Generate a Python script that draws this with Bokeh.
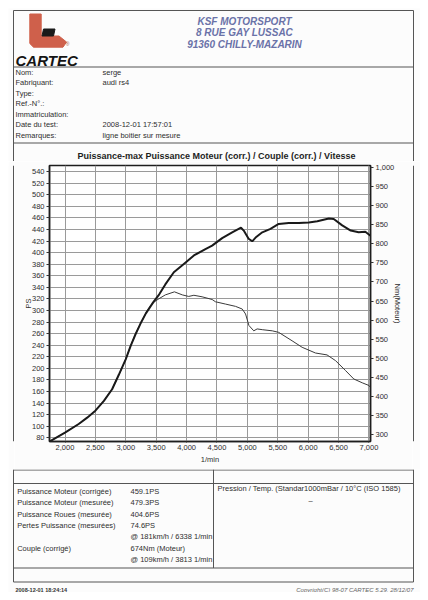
from bokeh.plotting import figure
from bokeh.models import Range1d, LinearAxis, FixedTicker, NumeralTickFormatter, Spacer
from bokeh.layouts import column, row
from bokeh.embed import file_html
from bokeh.resources import INLINE
from bokeh.core.properties import value

# ---------------- data ----------------
power_rpm = [1750, 2000, 2225, 2365, 2500, 2640, 2775, 2885, 3000, 3080, 3160, 3240, 3330,
             3450, 3550, 3650, 3790, 3950, 4120, 4310, 4420, 4585, 4750, 4895, 4940, 5020,
             5080, 5135, 5245, 5380, 5515, 5680, 5845, 6010, 6150, 6340, 6420, 6560, 6700,
             6830, 6940, 7025]
power_ps = [74, 89, 104, 115, 127, 144, 164, 189, 216, 239, 259, 277, 295,
            314, 328, 345, 366, 380, 395, 406, 412, 425, 435, 443, 438, 424,
            419.5, 426, 435, 441, 449.5, 451, 451, 452, 454, 459, 458, 447, 438,
            435, 436, 429]

torque_rpm = [1750, 2000, 2225, 2365, 2500, 2640, 2775, 2885, 3000, 3080, 3160, 3240, 3330,
              3400, 3470, 3545, 3650, 3800, 3930, 4035, 4120, 4255, 4420, 4475, 4640, 4805,
              4915, 4970, 5025, 5105, 5160, 5245, 5410, 5515, 5735, 5900, 6120, 6310, 6450,
              6615, 6750, 6890, 7000, 7025]
torque_nm = [283, 306, 328, 345, 363, 389, 420, 456, 498, 533, 564, 590, 618,
             636, 648, 656, 666, 674, 666, 662, 665, 661, 654, 648, 642, 636,
             629, 616, 586, 572, 577, 575, 572, 568, 546, 529, 514, 509, 494,
             468, 446, 436, 429, 424]

ps_ticks = list(range(80, 541, 20))
nm_ticks = list(range(300, 1001, 50))
rpm_ticks = list(range(2000, 7001, 500))

company_lines = ["KSF MOTORSPORT", "8 RUE GAY LUSSAC", "91360 CHILLY-MAZARIN"]
info_labels = ["Nom:", "Fabriquant:", "Type:", "Ref.-N°.:", "Immatriculation:",
               "Date du test:", "Remarques:"]
info_values = ["serge", "audi rs4", "", "", "", "2008-12-01 17:57:01",
               "ligne boitier sur mesure"]
chart_title = "Puissance-max Puissance Moteur (corr.) / Couple (corr.) / Vitesse"
result_labels = ["Puissance Moteur (corrigée)", "Puissance Moteur (mesurée)",
                 "Puissance Roues (mesurée)", "Pertes Puissance (mesurées)", "",
                 "Couple (corrigé)", ""]
result_values = ["459.1PS", "479.3PS", "404.6PS", "74.6PS", "@ 181km/h / 6338 1/min",
                 "674Nm (Moteur)", "@ 109km/h / 3813 1/min"]
conditions = "Pression / Temp. (Standar1000mBar / 10°C   (ISO 1585)"
footer_left = "2008-12-01 18:24:14"
footer_right = "Copyright(C) 98-07 CARTEC 5.29, 28/12/07"

FONT = value("Liberation Sans")
TXT = "#2e2e2e"
BG = "#fcfcfc"
LINE = "#555555"


def canvas(w, h, x0, x1, y0, y1):
    f = figure(width=w, height=h, x_range=Range1d(x0, x1), y_range=Range1d(y1, y0),
               output_backend="svg", toolbar_location=None, x_axis_type=None,
               y_axis_type=None, min_border=0)
    f.grid.visible = False
    f.outline_line_color = None
    f.background_fill_color = BG
    f.border_fill_color = BG
    return f


# ---------------- header (page y 8..161) ----------------
h = canvas(412, 153, 8, 420, 8, 161)
h.segment(x0=[13, 13, 13, 13, 413], y0=[10, 66.5, 142.5, 10, 10],
          x1=[413, 413, 413, 13, 413], y1=[10, 66.5, 142.5, 161, 161],
          line_color=LINE, line_width=1)
# logo
h.patch([29.3, 40.7, 40.7, 58.5, 66, 62.5, 33, 29.3],
        [13.5, 13.5, 35.5, 35.5, 41.5, 46.7, 46.7, 43], color="#cf604b")
h.patch([43, 54.5, 53, 41.5], [28.5, 28.5, 35.5, 35.5], color="#1a1a1a")
h.text(x=[15], y=[60], text=["CARTEC"], text_font=value("Liberation Sans"),
       text_font_size=value("15px"), text_font_style="bold italic",
       text_color="#151515", text_baseline="middle", text_align="left")
h.text(x=[67], y=[43.5], text=["®"], text_font=FONT, text_font_size=value("5px"),
       text_color="#a85545", text_baseline="middle", text_align="center")
h.text(x=[244] * 3, y=[21, 32.3, 43.8], text=company_lines, text_font=FONT,
       text_font_size=value("10px"), text_font_style="bold italic",
       text_color="#6a72a8", text_baseline="middle", text_align="center")
info_y = [71.7 + 10.55 * i for i in range(len(info_labels))]
h.text(x=[15] * len(info_labels), y=info_y, text=info_labels, text_font=FONT,
       text_font_size=value("7.5px"), text_color=TXT, text_baseline="middle",
       text_align="left")
h.text(x=[102] * len(info_values), y=info_y, text=info_values, text_font=FONT,
       text_font_size=value("7.5px"), text_color=TXT, text_baseline="middle",
       text_align="left")
h.text(x=[216], y=[155.5], text=[chart_title], text_font=FONT,
       text_font_size=value("9px"), text_font_style="bold", text_color="#1e1e1e",
       text_baseline="middle", text_align="center")

# ---------------- chart (page y 161..469) ----------------
p = figure(width=398, height=308, x_range=Range1d(1745, 7025),
           y_range=Range1d(73.8, 550.4), output_backend="svg", toolbar_location=None,
           min_border_left=35, min_border_right=42, min_border_top=4,
           min_border_bottom=28)
p.background_fill_color = "#ffffff"
p.border_fill_color = BG
p.outline_line_color = "#1e1e1e"
p.outline_line_width = 1.5
p.extra_y_ranges = {"nm": Range1d(282.5, 1004.5)}

for ax in p.xaxis:
    ax.ticker = FixedTicker(ticks=rpm_ticks)
    ax.formatter = NumeralTickFormatter(format="0,0")
    ax.axis_label = "1/min"
for ax in p.yaxis:
    ax.ticker = FixedTicker(ticks=ps_ticks)
    ax.axis_label = "PS"
right = LinearAxis(y_range_name="nm", ticker=FixedTicker(ticks=nm_ticks),
                   formatter=NumeralTickFormatter(format="0,0"), axis_label="Nm(Moteur)")
p.add_layout(right, "right")

for ax in list(p.xaxis) + list(p.yaxis) + [right]:
    ax.axis_line_color = "#1e1e1e"
    ax.axis_line_width = 1.5
    ax.major_tick_line_color = "#333333"
    ax.minor_tick_line_color = "#555555"
    ax.major_tick_in = 0
    ax.major_tick_out = 3
    ax.minor_tick_in = 0
    ax.minor_tick_out = 2
    ax.major_label_text_font = "Liberation Sans"
    ax.major_label_text_font_size = "7.5px"
    ax.major_label_text_color = TXT
    ax.major_label_standoff = 2
    ax.axis_label_text_font = "Liberation Sans"
    ax.axis_label_text_font_size = "7.5px"
    ax.axis_label_text_font_style = "normal"
    ax.axis_label_text_color = TXT
    ax.axis_label_standoff = 2
p.xaxis.major_tick_out = 1
p.yaxis.axis_label_standoff = -4

p.xgrid.ticker = FixedTicker(ticks=rpm_ticks)
p.ygrid.ticker = FixedTicker(ticks=ps_ticks)
p.grid.grid_line_color = "#9a9a9a"
p.grid.grid_line_width = 1

p.line(torque_rpm, torque_nm, y_range_name="nm", line_width=1, line_color="#3a3a3a")
p.line(power_rpm, power_ps, line_width=2, line_color="#1a1a1a")

sl = canvas(6, 308, 8, 14, 161, 469)
sl.segment(x0=[13], y0=[161], x1=[13], y1=[469], line_color=LINE, line_width=1)
sr = canvas(8, 308, 412, 420, 161, 469)
sr.segment(x0=[413], y0=[161], x1=[413], y1=[469], line_color=LINE, line_width=1)

# ---------------- footer (page y 469..592) ----------------
f = canvas(412, 123, 8, 420, 469, 592)
f.segment(x0=[13, 13, 13, 13, 13, 413, 213], y0=[469.5, 483, 567.5, 581.5, 469, 469, 469],
          x1=[413, 413, 413, 413, 13, 413, 213], y1=[469.5, 483, 567.5, 581.5, 581.5, 581.5, 567.5],
          line_color=LINE, line_width=1)
res_y = [491 + 11.33 * i for i in range(len(result_labels))]
f.text(x=[16.7] * len(result_labels), y=res_y, text=result_labels, text_font=FONT,
       text_font_size=value("7.5px"), text_color=TXT, text_baseline="middle",
       text_align="left")
f.text(x=[130] * len(result_values), y=res_y, text=result_values, text_font=FONT,
       text_font_size=value("7.5px"), text_color=TXT, text_baseline="middle",
       text_align="left")
f.text(x=[217, 308], y=[488.3, 500], text=[conditions, "–"], text_font=FONT,
       text_font_size=value("7.5px"), text_color=TXT, text_baseline="middle",
       text_align="left")
f.text(x=[15], y=[589.5], text=[footer_left], text_font=FONT,
       text_font_size=value("5.5px"), text_font_style="bold", text_color="#333333",
       text_baseline="middle", text_align="left")
f.text(x=[413], y=[589.5], text=[footer_right], text_font=FONT,
       text_font_size=value("6px"), text_font_style="italic", text_color="#666666",
       text_baseline="middle", text_align="right")

doc = column(h, row(sl, p, sr), f)
layout = row(Spacer(width=8, height=592), column(Spacer(width=412, height=8), doc))
open("out.html", "w").write(file_html(layout, INLINE))
